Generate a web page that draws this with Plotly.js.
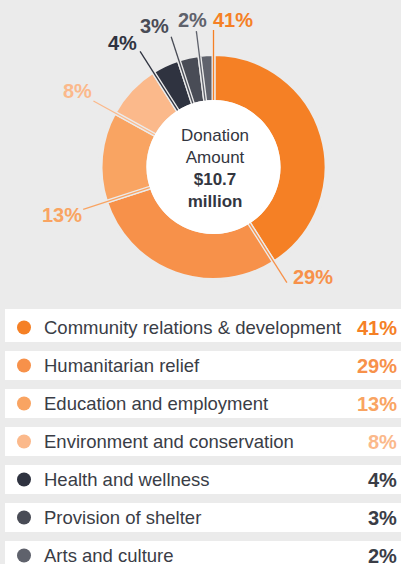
<!DOCTYPE html>
<html>
<head>
<meta charset="utf-8">
<script src="https://cdn.plot.ly/plotly-3.0.1.min.js"></script>
<style>html,body{margin:0;padding:0;background:#ebebeb;}#chart{width:401px;height:564px;}</style>
</head>
<body>
<div id="chart"></div>
<script>
// ---- data ----
const categories = [
  "Community relations & development",
  "Humanitarian relief",
  "Education and employment",
  "Environment and conservation",
  "Health and wellness",
  "Provision of shelter",
  "Arts and culture"
];
const shares = [41, 29, 13, 8, 4, 3, 2];
const shareLabels = ["41%", "29%", "13%", "8%", "4%", "3%", "2%"];
const centerLines = ["Donation", "Amount", "$10.7", "million"];

// ---- styles ----
const sliceColors = ["#f58025", "#f7914a", "#f9a462", "#fbb98b", "#2f3340", "#494c56", "#5f626c"];
const bg = "#ebebeb";
const textColor = "#3a3d46";
const FONT = "'Liberation Sans', Arial, Helvetica, sans-serif";
const W = 401, H = 564;

// donut geometry (pixels)
const cx = 213.5, cy = 167, R = 113, innerR = 67, lineEndR = 137, gap = 4;
// label offsets relative to leader line end (pixels)
const labelOffsets = [[19, -10], [26, -6], [-21, 6], [-16, -10], [-18, -8], [-17, -11], [-4, -11]];

const px = x => x / W;
const py = y => 1 - y / H;

const total = shares.reduce((a, b) => a + b, 0);
let cum = 0;
const startAngles = shares.map(v => { const a = cum / total * 2 * Math.PI; cum += v; return a; });

const pie = {
  type: "pie",
  values: shares,
  labels: categories,
  sort: false,
  direction: "clockwise",
  rotation: 0,
  hole: (innerR - gap / 2) / R,
  textinfo: "none",
  hoverinfo: "skip",
  showlegend: false,
  marker: { colors: sliceColors, line: { color: bg, width: gap } },
  domain: { x: [px(cx - R), px(cx + R)], y: [py(cy + R), py(cy - R)] }
};

// legend rows
const rowIdx = categories.map((_, i) => i);
const rowTop = 327.5, rowPitch = 38, rowTopPx = 300;
const legendMarkers = {
  type: "scatter",
  mode: "markers",
  x: categories.map(() => 0),
  y: rowIdx,
  marker: { size: 14, color: sliceColors, line: { width: 0 } },
  hoverinfo: "skip",
  showlegend: false,
  xaxis: "x", yaxis: "y"
};

const shapes = [];
const annotations = [];

// white centre
shapes.push({
  type: "circle", xref: "paper", yref: "paper", layer: "above",
  x0: px(cx - innerR), x1: px(cx + innerR), y0: py(cy + innerR), y1: py(cy - innerR),
  fillcolor: "#ffffff", line: { width: 0 }
});

// leader lines + labels
startAngles.forEach((a, i) => {
  const s = Math.sin(a), c = -Math.cos(a);
  const x1 = cx + s * innerR, y1 = cy + c * innerR;
  const x2 = cx + s * lineEndR, y2 = cy + c * lineEndR;
  shapes.push({
    type: "line", xref: "paper", yref: "paper", layer: "above",
    x0: px(x1), y0: py(y1), x1: px(x2), y1: py(y2),
    line: { color: sliceColors[i], width: 1.3 }
  });
  annotations.push({
    xref: "paper", yref: "paper", showarrow: false,
    x: px(x2 + labelOffsets[i][0]), y: py(y2 + labelOffsets[i][1]),
    xanchor: "center", yanchor: "middle",
    text: "<b>" + shareLabels[i] + "</b>",
    font: { family: FONT, size: 20, color: sliceColors[i] }
  });
});

// centre text
annotations.push({
  xref: "paper", yref: "paper", showarrow: false,
  x: px(cx + 1), y: py(cy + 1), xanchor: "center", yanchor: "middle",
  text: centerLines[0] + "<br>" + centerLines[1] + "<br><b>" + centerLines[2] + "</b><br><b>" + centerLines[3] + "</b>",
  font: { family: FONT, size: 17, color: "#33363f" }
});

// legend boxes + texts
rowIdx.forEach(i => {
  const half = 14.5 / rowPitch;
  const extraTop = i === 0 ? 4 / rowPitch : 0;
  shapes.push({
    type: "rect", xref: "paper", yref: "y", layer: "below",
    x0: px(5), x1: 1, y0: i - half - extraTop, y1: i + half,
    fillcolor: "#ffffff", line: { width: 0 }
  });
  annotations.push({
    xref: "paper", yref: "y", showarrow: false,
    x: px(42), y: i, xanchor: "left", yanchor: "middle",
    text: categories[i],
    font: { family: FONT, size: 18.5, color: textColor }
  });
  annotations.push({
    xref: "paper", yref: "y", showarrow: false,
    x: px(399), y: i, xanchor: "right", yanchor: "middle",
    text: "<b>" + shareLabels[i] + "</b>",
    font: { family: FONT, size: 20, color: i < 4 ? sliceColors[i] : textColor }
  });
});

const layout = {
  width: W, height: H,
  margin: { l: 0, r: 0, t: 0, b: 0 },
  paper_bgcolor: bg, plot_bgcolor: "rgba(0,0,0,0)",
  showlegend: false,
  xaxis: { domain: [0, 1], range: [-24, W - 24], visible: false, fixedrange: true },
  yaxis: {
    domain: [0, py(rowTopPx)],
    range: [(H - rowTop) / rowPitch, (rowTopPx - rowTop) / rowPitch],
    visible: false, fixedrange: true
  },
  shapes: shapes,
  annotations: annotations
};

Plotly.newPlot("chart", [pie, legendMarkers], layout, { displayModeBar: false, staticPlot: true });
</script>
</body>
</html>
